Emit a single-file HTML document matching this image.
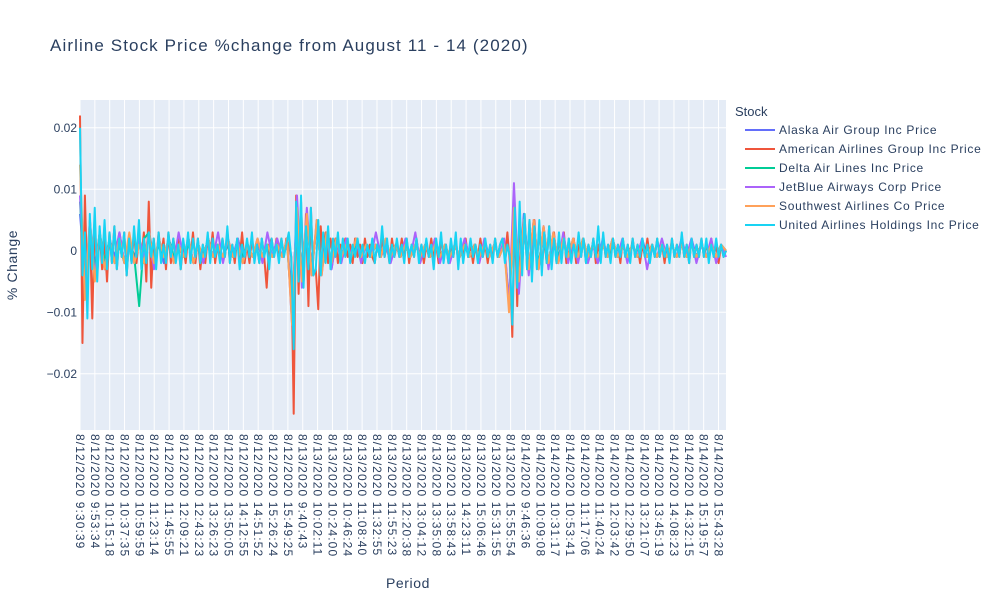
<!DOCTYPE html>
<html><head><meta charset="utf-8"><style>
body{margin:0;background:#fff;}
svg{display:block;font-family:"Liberation Sans",sans-serif;}
</style></head><body>
<svg id="chart" width="1000" height="600">
<rect x="0" y="0" width="1000" height="600" fill="#fff"/>
<text x="50" y="51" font-size="17" letter-spacing="1.1" fill="#2a3f5f">Airline Stock Price %change from August 11 - 14 (2020)</text>
<rect x="80" y="100" width="646" height="330" fill="#e5ecf6"/>
<g id="grid"></g>
<g id="yticks"></g>
<g id="xticks"></g>
<g id="series"></g>
<text x="0" y="0" font-size="14" letter-spacing="0.6" fill="#2a3f5f" text-anchor="middle" transform="translate(17,265) rotate(-90)">% Change</text>
<text x="408" y="588" font-size="14" letter-spacing="0.6" fill="#2a3f5f" text-anchor="middle">Period</text>
<g id="legend">
<text x="735" y="116" font-size="13" fill="#2a3f5f">Stock</text>
</g>
</svg>
<script>
const UNIT = 0.001;
const stockNames = ["Alaska Air Group Inc Price","American Airlines Group Inc Price","Delta Air Lines Inc Price","JetBlue Airways Corp Price","Southwest Airlines Co Price","United Airlines Holdings Inc Price"];
const stockColors = ["#636efa","#EF553B","#00cc96","#ab63fa","#FFA15A","#19d3f3"];
const tickLabels = ["8/12/2020 9:30:39","8/12/2020 9:53:34","8/12/2020 10:15:18","8/12/2020 10:37:35","8/12/2020 10:59:59","8/12/2020 11:23:14","8/12/2020 11:45:55","8/12/2020 12:09:21","8/12/2020 12:43:23","8/12/2020 13:26:23","8/12/2020 13:50:05","8/12/2020 14:12:55","8/12/2020 14:51:52","8/12/2020 15:26:24","8/12/2020 15:49:25","8/13/2020 9:40:43","8/13/2020 10:02:11","8/13/2020 10:24:00","8/13/2020 10:46:24","8/13/2020 11:08:40","8/13/2020 11:32:55","8/13/2020 11:55:23","8/13/2020 12:20:38","8/13/2020 13:04:12","8/13/2020 13:35:08","8/13/2020 13:58:43","8/13/2020 14:23:11","8/13/2020 15:06:46","8/13/2020 15:31:55","8/13/2020 15:55:54","8/14/2020 9:46:36","8/14/2020 10:09:08","8/14/2020 10:31:17","8/14/2020 10:53:41","8/14/2020 11:17:06","8/14/2020 11:40:24","8/14/2020 12:03:42","8/14/2020 12:29:50","8/14/2020 13:21:07","8/14/2020 13:45:19","8/14/2020 14:08:23","8/14/2020 14:32:15","8/14/2020 15:19:57","8/14/2020 15:43:28"];
const yTickValues = [0.02, 0.01, 0, -0.01, -0.02];
const yTickLabels = ["0.02","0.01","0","−0.01","−0.02"];
// values in milli-units (×0.001)
const alaskaValues = [6,-4,3,-2,2,-3,2,-1,3,-2, 2,-1,2,-2,3,-1,1,-2,2,-1, 1,-1,2,-2,1,-1,2,-1,1,-1, 2,-1,1,-2,1,-1,2,-1,1,-1, 1,-1,2,-9,6,-4,5,-3,4,-2, 3,-3,2,-1,1,-1,2,-1,1,-1, 1,-1,2,-1,1,-1,1,-1,1,-1, 1,-1,2,-1,1,-1,1,-1,1,-1, 1,-1,1,-1,1,-1,1,-8,7,-5, 6,-3,5,-3,4,-2,3,-2,2,-1, 2,-1,2,-1,1,-2,1,-1,2,-1, 1,-1,1,-1,2,-1,1,-1,1,-1, 1,-1,1,-1,2,-1,1,-1,1,-1,1,0];
const americanValues = [22,-15,9,-6,4,-11,5,-4,3,-3,2,-5, 3,-2,4,-3,2,-1,3,-4,2,-2,3,-2, 2,-1,3,-5,8,-6,2,-2,3,-1,2,-3, 3,-2,2,-1,2,-3,1,-2,2,-1,3,-2, 2,-3,1,-2,2,-1,3,-2,1,-1,2,-1, 3,-2,1,-2,2,-1,3,-2,1,-2,2,-1, 1,-2,2,-1,-6,1,2,-1,2,-1,2,-1, 2,1,-1,-26.5,9,-7,8,-5,6,-9,7,-4, -3,-9.5,4,-2,3,-2,2,-1,2,-2,1,-1, 2,-1,1,-2,2,-1,1,-2,2,-1,1,-1, -2,1,-1,2,-1,1,-2,2,-1,1,-1,2, -1,2,-2,1,-1,2,-1,1,-2,1,-1,2, -1,1,-2,2,-1,1,-2,1,-1,2,-2,1, -1,2,-1,1,-2,1,-1,2,-1,1,-2,1, -1,2,-1,1,2,-1,3,-2,-14,6,-9,6, -3,6,-3,5,-4,5,-2,4,-3,2,-2,4, -2,3,-2,2,-1,3,-2,2,-1,2,-2,1, -1,2,-2,1,-1,2,-2,1,-1,2,-1,1, -1,2,-1,1,-2,2,-1,1,-1,2,-1,1, -2,1,-1,2,-1,1,-1,2,-1,1,-2,1, -1,2,-1,1,-1,2,-1,1,-2,2,-1,1, -1,2,-1,1,-1,2,-1,1,-2,1,-1,0];
const deltaValues = [8,-6,4,-3,3,-2,2,-2,1,-2, 2,-1,-9,2,3,-2,1,-1,2,-1, 1,-1,1,-2,1,-1,2,-1,1,-1, 1,-1,2,-1,1,-1,1,-1,1,-1, 1,-1,1,-10,6,-4,5,-3,4,-3, 2,-2,2,-1,1,-1,1,-1,1,-1, 1,-1,1,-1,1,-1,1,-1,1,-1, 1,-1,1,-1,1,-1,1,-1,1,-1, 1,-1,1,-1,1,-1,1,-9,6,-5, 4,-3,4,-2,3,-2,2,-1,2,-1, 1,-1,2,-1,1,-1,1,-1,1,-1, 1,-1,1,-1,1,-1,1,-1,1,-1, 1,-1,1,-1,1,-1,1,-1,1,-1,1,0];
const jetblueValues = [9,-7,5,-4,3,-3,2,-2,3,-2, 2,-2,2,-1,3,-3,2,-1,2,-2, 3,-1,2,-2,1,-2,2,-1,3,-2, 2,-1,2,-2,1,-1,2,-2,3,-1, 2,-1,2,-12,9,-6,7,-4,5,-4, 3,-3,2,-2,2,-1,2,-2,1,-1, 3,-1,1,-2,1,-1,2,-1,3,-2, 1,-1,2,-2,1,-2,1,-1,2,-1, 1,-2,2,-1,1,-1,2,-9,11,-7, 5,-4,5,-3,4,-3,3,-2,3,-2, 2,-2,2,-2,1,-2,2,-1,2,-1, 2,-2,1,-1,2,-3,1,-1,2,-1, 1,-1,2,-1,2,-2,1,-1,2,-2,1,-1];
const southwestValues = [14,-8,5,-5,3,-3,2,-2,2,-2, 3,-2,1,-2,3,-2,2,-1,2,-2, 1,-1,2,-2,1,-1,2,-1,1,-1, 2,-1,1,-2,1,-1,2,-1,1,-1, 1,-1,2,-12,7,-5,6,-4,5,-4, 3,-2,2,-1,1,-1,2,-1,1,-1, 1,-1,2,-1,1,-1,1,-1,1,-1, 1,-1,1,-1,1,-1,1,-1,1,-1, 1,-1,1,-1,1,-1,1,-10,7,-5, 5,-3,5,-3,4,-2,3,-2,2,-1, 2,-1,2,-1,1,-1,1,-1,2,-1, 1,-1,1,-1,1,-1,1,-1,1,-1, 1,-1,1,-1,1,-1,1,-1,1,-1,1,0];
const unitedValues = [20,-4,3,-11,6,-3,7,-5,4,-2,5,-3, 3,-2,4,-3,2,-1,3,-4,2,-2,4,-1, 5,-3,2,-2,3,-1,2,-3,3,-2,1,-2, 3,-1,2,-2,1,-3,2,-1,3,-2,2,-1, 2,-2,1,-1,3,-2,2,-1,1,-2,2,-1, 4,-2,1,-1,2,-3,1,-1,2,-1,3,-2, 1,-2,2,-1,1,-3,2,-1,1,-2,2,-1, 1,3,-1,-16,8,-5,9,-6,4,-3,7,-4, -3,5,-4,3,-2,4,-3,2,-1,3,-2,2, -1,2,-2,1,-1,2,-1,1,-2,1,-1,2, -2,1,-1,4,-1,2,-2,1,-1,2,-1,1, -2,2,-1,1,-1,2,-2,1,-1,2,-1,1, -3,2,-1,3,-2,1,-2,2,-1,3,-3,2, -2,1,-1,2,-1,1,-2,1,-1,2,-1,1, -2,2,-1,1,2,-2,1,-1,-12,7,-6,8, -4,6,-3,5,-5,4,-3,5,-4,3,-2,4, -3,2,-2,3,-2,2,-1,2,-2,1,-1,3, -1,2,-2,1,-1,2,-1,4,-2,3,-1,1, -2,2,-1,1,-1,2,-1,1,-2,2,-1,1, -1,2,-1,1,-2,1,-1,2,-1,1,-1,1, -2,2,-1,1,-1,3,-1,1,-2,2,-1,1, -1,2,-1,2,-2,1,-1,2,-1,1,-1,0];
const allSeries = [alaskaValues, americanValues, deltaValues, jetblueValues, southwestValues, unitedValues];

const NS = "http://www.w3.org/2000/svg";
const PL = 80, PR = 726, PT = 100, PB = 430;
const Y0 = 250.8, PXPER = 6150;
const NTICK = tickLabels.length;
const TICK_SPAN = (718.5 - PL) / (NTICK - 1);
function xScaleFrac(f){ return PL + f * (PR - PL); }
function xIndex(i, len){ return xScaleFrac(i / (len - 1)); }
function yScale(v){ return Y0 - v * PXPER; }
function mk(tag, attrs, parent){ const e = document.createElementNS(NS, tag); for (const k in attrs) e.setAttribute(k, attrs[k]); parent.appendChild(e); return e; }

const grid = document.getElementById('grid');
const yt = document.getElementById('yticks');
yTickValues.forEach((v, k) => {
  const y = yScale(v);
  const l = mk('line', {x1: PL, x2: PR, y1: y, y2: y, stroke: '#fff', 'stroke-width': v === 0 ? 2 : 1}, grid);
  
  
  const t = mk('text', {x: 77, y: y + 4, 'font-size': 12, fill: '#2a3f5f', 'text-anchor': 'end'}, yt);
  t.textContent = yTickLabels[k];
  
  
});
const xt = document.getElementById('xticks');
tickLabels.forEach((lab, k) => {
  const x = PL + k * TICK_SPAN;
  const l = mk('line', {x1: x, x2: x, y1: PT, y2: PB, stroke: '#fff', 'stroke-width': 1}, grid);
  
  
  const tx = x - 4, ty = 434;
  const t = mk('text', {x: tx, y: ty, 'font-size': 12, 'letter-spacing': 1.1, fill: '#2a3f5f', transform: `rotate(90 ${tx} ${ty})`}, xt);
  t.textContent = lab;
  
  
});
const sg = document.getElementById('series');
allSeries.forEach((vals, s) => {
  const pts = vals.map((v, i) => xIndex(i, vals.length).toFixed(2) + ',' + yScale(v * UNIT).toFixed(2)).join(' ');
  const p = mk('polyline', {points: pts, fill: 'none', stroke: stockColors[s], 'stroke-width': 2, 'stroke-linejoin': 'round'}, sg);
  
  
});
const lg = document.getElementById('legend');
stockNames.forEach((nm, s) => {
  const y = 130 + s * 19;
  const g = mk('g', {}, lg);
  
  
  mk('line', {x1: 745, x2: 775, y1: y, y2: y, stroke: stockColors[s], 'stroke-width': 2}, g);
  const t = mk('text', {x: 779, y: y + 4, 'font-size': 12, 'letter-spacing': 0.7, fill: '#2a3f5f'}, g);
  t.textContent = nm;
});
</script>
</body></html>
